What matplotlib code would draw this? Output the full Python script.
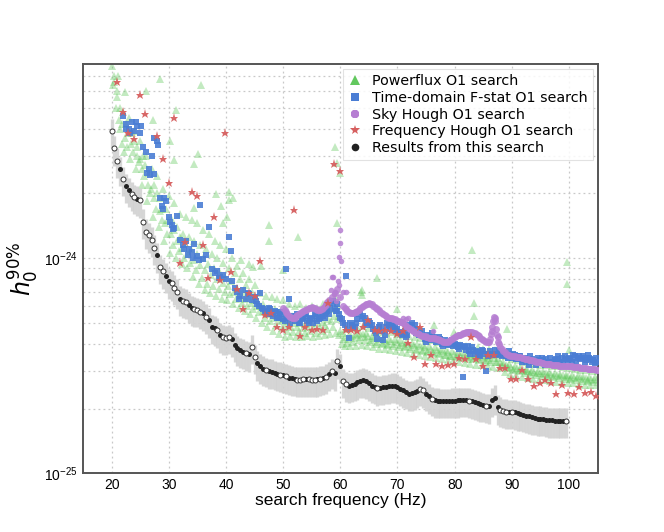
import numpy as np
import matplotlib
matplotlib.use("Agg")
import matplotlib.pyplot as plt
from matplotlib.lines import Line2D
from matplotlib.ticker import FixedLocator, NullFormatter

UNIT = 1e-25

# ---------------- Results from this search (0.5 Hz bins, 20.0 .. 99.5 Hz)
this_f_start, this_f_step = 20.0, 0.5
this_h0 = [
    39.0, 32.4, 28.4, 26.0, 23.4, 21.7, 20.8, 19.9, 19.3, 18.9,
    18.6, 14.8, 13.3, 12.8, 12.2, 11.2, 10.3, 9.1, 8.7, 8.3,
    7.8, 7.65, 7.3, 7.0, 6.5, 6.35, 6.28, 6.05, 5.85, 5.8,
    5.75, 5.65, 5.55, 5.35, 5.15, 4.8, 4.72, 4.62, 4.39, 4.3,
    4.27, 4.31, 4.2, 3.95, 3.82, 3.73, 3.68, 3.62, 3.58, 3.87,
    3.48, 3.25, 3.15, 3.07, 3.03, 2.99, 2.97, 2.93, 2.9, 2.88,
    2.86, 2.83, 2.79, 2.77, 2.75, 2.73, 2.73, 2.74, 2.74, 2.74,
    2.73, 2.73, 2.74, 2.76, 2.78, 2.82, 2.9, 2.98, 2.92, 3.32,
    3.16, 2.69, 2.6, 2.56, 2.58, 2.61, 2.65, 2.69, 2.71, 2.68,
    2.62, 2.56, 2.52, 2.49, 2.5, 2.51, 2.52, 2.54, 2.56, 2.56,
    2.53, 2.48, 2.44, 2.39, 2.35, 2.36, 2.38, 2.42, 2.48, 2.44,
    2.35, 2.28, 2.22, 2.19, 2.18, 2.17, 2.17, 2.17, 2.17, 2.18,
    2.18, 2.19, 2.2, 2.2, 2.2, 2.18, 2.16, 2.14, 2.12, 2.1,
    2.08, 2.06, 2.05, 2.2, 2.25, 2.03, 1.98, 1.95, 1.94, 1.93,
    1.93, 1.92, 1.9, 1.89, 1.87, 1.85, 1.84, 1.82, 1.81, 1.8,
    1.8, 1.79, 1.78, 1.77, 1.77, 1.76, 1.76, 1.76, 1.76, 1.76,
]
this_filled = ("0001011001" "0000001001" "1000100110" "0010111010"
               "0011111010" "0111011110" "1011100010" "0010101010"
               "1001111111" "1110111111" "1111111100" "1101111111"
               "1111101111" "1011110001" "0111111111" "1111111110")
this_err_lo, this_err_hi = 0.17, 0.14

# ---------------- Powerflux O1 (three interleaved rows across the band + outliers)
pf_f_step = 0.5
pf_a_f_start = 20.0
pf_a = [
    78, 66, 60, 50, 48, 42, 45, 38, 39, 33,
    35, 30, 30, 25, 26, 22, 24, 19, 21, 17,
    19.5, 15, 18, 14, 16, 13, 15.5, 12.5, 15, 12,
    14.5, 11.5, 13.5, 11, 13, 10.5, 12, 10, 11.5, 9.5,
    11, 9.0, 10, 8.5, 9.2, 8.0, 8.5, 7.5, 8.0, 7.0,
    7.5, 6.4, 6.9, 6.1, 6.7, 5.9, 6.6, 5.8, 6.5, 5.6,
    6.4, 5.5, 6.1, 5.4, 6.0, 5.3, 6.1, 5.4, 5.9, 5.2,
    6.0, 5.3, 5.9, 5.4, 6.1, 5.6, 6.3, 5.8, 6.6, 6.0,
    5.4, 4.5, 4.7, 4.4, 4.75, 4.45, 4.8, 4.5, 4.85, 4.5,
    4.75, 4.35, 4.55, 4.3, 4.55, 4.25, 4.5, 4.2, 4.55, 4.2,
    4.45, 4.15, 4.4, 4.1, 4.35, 4.05, 4.3, 4.0, 4.25, 3.95,
    4.2, 3.9, 4.15, 3.85, 4.1, 3.8, 4.05, 3.75, 4.0, 3.7,
    3.95, 3.68, 3.95, 3.65, 3.9, 3.6, 3.88, 3.58, 3.85, 3.55,
    3.8, 3.52, 3.78, 3.55, 3.75, 3.45, 3.6, 3.3, 3.5, 3.22,
    3.42, 3.15, 3.35, 3.1, 3.3, 3.05, 3.25, 3.02, 3.22, 3.0,
    3.2, 2.98, 3.18, 2.95, 3.16, 2.93, 3.15, 2.9, 3.12, 2.88,
    3.08, 2.86, 3.05, 2.85, 3.03, 2.83, 3.02, 2.82, 3.0, 2.8,
    2.98,
]
pf_b_f_start = 20.25
pf_b = [
    64, 50, 44, 34, 31, 33, 29, 31, 26, 28,
    22, 24, 18.5, 20, 15.5, 17, 14, 15, 12, 13,
    10.6, 11.5, 10, 10.8, 9.4, 10, 9.0, 9.5, 8.2, 8.8,
    7.6, 8.1, 7.1, 7.6, 6.9, 7.4, 6.7, 7.2, 6.5, 7.0,
    6.4, 6.8, 6.1, 6.5, 5.9, 6.2, 5.7, 6.0, 5.5, 5.8,
    5.3, 5.6, 5.0, 5.3, 4.8, 5.1, 4.6, 4.9, 4.45, 4.75,
    4.3, 4.6, 4.35, 4.55, 4.3, 4.6, 4.3, 4.5, 4.35, 4.6,
    4.3, 4.5, 4.35, 4.6, 4.4, 4.7, 4.45, 4.8, 4.5, 4.4,
    4.0, 3.9, 4.05, 3.9, 4.1, 3.92, 4.15, 3.95, 4.15, 3.92,
    4.1, 3.85, 4.0, 3.8, 4.0, 3.78, 3.95, 3.76, 3.92, 3.72,
    3.88, 3.68, 3.85, 3.64, 3.8, 3.6, 3.76, 3.56, 3.72, 3.52,
    3.68, 3.48, 3.64, 3.44, 3.6, 3.4, 3.55, 3.36, 3.5, 3.32,
    3.46, 3.28, 3.44, 3.26, 3.42, 3.24, 3.4, 3.2, 3.36, 3.18,
    3.33, 3.15, 3.3, 3.14, 3.3, 3.08, 3.15, 2.96, 3.08, 2.9,
    3.02, 2.86, 2.98, 2.82, 2.94, 2.79, 2.9, 2.76, 2.87, 2.73,
    2.85, 2.71, 2.82, 2.69, 2.8, 2.67, 2.78, 2.65, 2.76, 2.64,
    2.74, 2.62, 2.72, 2.61, 2.7, 2.59, 2.68, 2.58, 2.67, 2.57,
]
pf_c_f_start = 20.4
pf_c = [
    70, 56, 40, 42, 36, 38, 34, 35, 30, 29,
    26, 27, 22, 21, 19, 20, 16.5, 17, 14.5, 15,
    13, 13.5, 12, 12.5, 11.2, 11.8, 10.5, 11, 9.8, 10.5,
    9.3, 10, 8.8, 9.4, 8.4, 9.0, 8.0, 8.5, 7.7, 8.2,
    7.4, 7.8, 7.0, 7.3, 6.7, 7.0, 6.5, 6.7, 6.2, 6.4,
    6.0, 6.0, 5.7, 5.8, 5.5, 5.6, 5.3, 5.4, 5.1, 5.2,
    4.9, 5.1, 4.8, 5.0, 4.8, 5.0, 4.75, 4.95, 4.8, 5.0,
    4.75, 5.0, 4.8, 5.05, 4.9, 5.2, 5.1, 5.4, 5.2, 4.6,
    4.2, 4.3, 4.2, 4.35, 4.25, 4.4, 4.3, 4.45, 4.3, 4.35,
    4.15, 4.25, 4.1, 4.2, 4.05, 4.15, 4.0, 4.12, 3.98, 4.08,
    3.94, 4.03, 3.9, 3.98, 3.85, 3.94, 3.8, 3.9, 3.76, 3.85,
    3.72, 3.8, 3.66, 3.75, 3.62, 3.7, 3.57, 3.65, 3.53, 3.6,
    3.5, 3.56, 3.48, 3.54, 3.46, 3.52, 3.43, 3.5, 3.4, 3.46,
    3.37, 3.43, 3.36, 3.45, 3.3, 3.28, 3.2, 3.18, 3.12, 3.14,
    3.06, 3.08, 3.02, 3.04, 2.98, 3.0, 2.95, 2.97, 2.92, 2.94,
    2.89, 2.92, 2.87, 2.9, 2.85, 2.88, 2.83, 2.86, 2.81, 2.84,
    2.79, 2.82, 2.77, 2.8, 2.75, 2.78, 2.73, 2.76, 2.72, 2.74,
]
pf_out_f = [21.2, 22.3, 26.1, 27.2, 28.4, 30.2, 31.0, 31.3, 34.5, 34.5,
            35.2, 35.7, 38.3, 39.2, 39.5, 40.1, 40.6, 40.6, 41.2, 42.7,
            44.0, 44.7, 46.2, 47.5, 47.6, 49.9, 52.6, 59.1, 59.5, 60.0,
            59.5, 63.6, 63.8, 63.8, 66.5, 70.0, 76.4, 79.9, 83.1, 83.4,
            83.4, 89.2, 99.7, 99.7, 100.0]
pf_out_h0 = [70, 59, 60, 44, 68, 35, 28.6, 49, 27.3, 17.2,
             30.6, 64, 19.8, 17.4, 14.5, 15.6, 20.4, 18.6, 19, 9.8,
             9.4, 9.1, 9.2, 14.2, 12, 8.8, 12.5, 33, 27.8, 25,
             14.5, 7.0, 7.1, 6.75, 8.1, 5.84, 4.88, 4.55, 10.9, 6.2,
             5.38, 4.71, 9.6, 7.6, 3.74]

# ---------------- Time-domain F-stat O1
td_f_start, td_f_step = 22.0, 0.5
td_h0 = [
    46, 42, 40, 43, 39, 41, 38, 33, 31, 26,
    30, 24.5, 35, 19, 17, 18.5, 15.5, 14.2, 13.8, 15.7,
    12.2, 11.5, 12.0, 11.0, 10.7, 11.6, 10.2, 17.7, 9.9, 10.4,
    14.0, 8.9, 8.5, 8.7, 8.2, 8.4, 8.0, 12.5, 7.8, 7.3,
    7.0, 6.7, 7.1, 6.5, 6.8, 6.4, 6.6, 6.1, 6.9, 5.8,
    5.6, 5.9, 5.5, 5.7, 5.3, 5.6, 5.2, 8.9, 6.5, 5.4,
    5.1, 5.5, 5.0, 5.3, 5.4, 5.0, 5.2, 5.5, 5.1, 5.3,
    5.4, 5.6, 5.5, 6.3, 5.8, 6.1, 5.3, 5.0, 8.3, 4.25,
    4.9, 4.8, 5.2, 5.6, 5.4, 5.0, 5.1, 4.9, 4.6, 4.2,
    4.9, 4.15, 4.8, 4.9, 5.0, 4.8, 4.7, 4.5, 4.45, 4.3,
    4.9, 5.0, 4.9, 4.7, 4.5, 4.35, 4.1, 4.3, 4.5, 4.25,
    4.15, 4.2, 3.9, 4.0, 4.1, 4.15, 4.0, 3.85, 3.95, 2.8,
    3.75, 3.7, 3.85, 3.6, 3.65, 3.5, 3.7, 2.98, 3.6, 3.55,
    3.75, 3.6, 3.65, 3.55, 3.5, 3.7, 3.45, 3.55, 3.4, 3.5,
    3.35, 3.3, 3.2, 3.4, 3.3, 3.45, 3.25, 3.35, 3.4, 3.3,
    3.2, 3.35, 3.5, 3.3, 3.25, 3.4, 3.45, 3.3, 3.5, 3.45,
    3.4, 3.5, 3.35, 3.45, 3.3, 3.25, 3.3,
]
td2_f_start = 45.25
td2_h0 = [
    6.3, 6.0, 5.9, 5.7, 5.5, 5.8, 5.4, 5.6, 5.3, 5.5,
    5.1, 5.3, 5.0, 5.2, 5.4, 5.0, 5.2, 5.5, 5.1, 5.3,
    5.0, 5.4, 5.2, 5.5, 5.3, 5.7, 5.9, 6.2, 5.7, 5.5,
    5.2, 4.9, 4.7, 5.0, 4.75, 5.0, 5.5, 5.2, 5.3, 4.9,
    5.0, 4.7, 4.5, 4.8, 4.6, 4.4, 5.0, 4.7, 4.85, 4.6,
    4.55, 4.4, 4.6, 4.4, 4.8, 4.65, 4.5, 4.4, 4.6, 4.2,
    4.4, 4.15, 4.3, 4.1, 4.3, 4.0, 4.15, 3.95, 4.0, 3.9,
    3.95, 3.8, 3.9, 3.85, 3.9, 3.6, 3.75, 3.7, 3.55, 3.75,
    3.6, 3.5, 3.7, 3.6, 3.55, 3.7, 3.5, 3.6, 3.45, 3.55,
    3.6, 3.4, 3.5, 3.3, 3.45, 3.35, 3.5, 3.3, 3.2, 3.35,
    3.45, 3.2, 3.3, 3.45, 3.3, 3.4, 3.25, 3.45, 3.5, 3.35,
    3.4, 3.55, 3.3, 3.5, 3.45, 3.3, 3.55, 3.4, 3.35, 3.45,
]
td3_f = [22.6, 23.3, 24.3, 25.2, 26.2, 26.8, 27.4, 28.1, 28.8, 29.2,
         30.3, 30.8, 32.6, 33.3, 34.2, 35.3, 38.7, 40.8, 42.3, 43.8,
         58.7, 59.4]
td3_h0 = [40, 38, 43, 41, 25, 24.3, 36, 33.5, 17.5, 19,
          14.8, 13.7, 11.0, 10.3, 10.0, 9.8, 8.1, 10.8, 6.5, 6.9,
          6.3, 5.7]

# ---------------- Sky Hough O1
sh_f_start, sh_f_step = 50.0, 0.5
sh_h0 = [
    5.85, 5.6, 5.4, 5.25, 5.3, 5.45, 5.55, 5.7, 5.74, 5.85,
    5.95, 5.85, 5.72, 5.75, 5.85, 6.1, 6.4, 6.6, 6.9, 7.2,
    6.6, 6.0, 5.8, 5.6, 5.55, 5.6, 5.7, 5.85, 6.0, 6.12,
    6.17, 6.1, 5.95, 5.8, 5.65, 5.5, 5.4, 5.3, 5.25, 5.2,
    5.12, 5.06, 5.0, 4.85, 4.72, 4.62, 4.55, 4.48, 4.4, 4.35,
    4.31, 4.28, 4.26, 4.24, 4.2, 4.15, 4.1, 4.08, 4.12, 4.22,
    4.32, 4.38, 4.42, 4.48, 4.53, 4.55, 4.53, 4.48, 4.38, 4.28,
    4.18, 4.1, 4.1, 4.6, 5.3, 4.3, 3.85, 3.7, 3.6, 3.54,
    3.52, 3.5, 3.48, 3.46, 3.43, 3.4, 3.38, 3.36, 3.33, 3.3,
    3.28, 3.25, 3.24, 3.22, 3.2, 3.19, 3.18, 3.17, 3.16, 3.16,
    3.15, 3.15, 3.13, 3.12, 3.1, 3.09, 3.08, 3.07, 3.06, 3.05,
    3.04,
]
sh2_f = [50.25, 50.75, 51.25, 51.75, 52.25, 52.75, 53.25, 53.75, 54.25, 54.75,
         55.25, 55.75, 56.25, 56.75, 57.25, 57.75, 60.75, 61.25, 61.75, 62.25,
         62.75, 63.25, 63.75, 64.25, 64.75, 65.25, 65.75, 66.25, 66.75, 67.25,
         67.75, 68.25, 68.75, 69.25, 69.75, 70.25, 70.75, 71.25, 71.75, 72.25,
         72.75, 73.25, 73.75, 74.25, 74.75, 75.25, 75.75, 76.25, 76.75, 77.25,
         77.75, 78.25, 78.75, 79.25, 79.75, 80.25, 80.75, 81.25, 81.75, 82.25,
         82.75, 83.25, 83.75, 84.25, 84.75, 85.25, 85.75,
         86.25, 86.4, 86.6, 86.75, 86.9, 87.1, 87.25, 87.4, 87.6, 87.75,
         88.25, 88.75, 89.25, 89.75, 90.25, 90.75, 91.25, 91.75, 92.25, 92.75,
         93.25, 93.75, 94.25, 94.75, 95.25, 95.75, 96.25, 96.75, 97.25, 97.75,
         98.25, 98.75, 99.25, 99.75, 100.25, 100.75, 101.25, 101.75, 102.25,
         102.75, 103.25, 103.75, 104.25, 104.75]
sh2_h0 = [5.72, 5.5, 5.32, 5.26, 5.38, 5.5, 5.62, 5.72, 5.8, 5.9,
          5.9, 5.78, 5.73, 5.8, 5.97, 6.25, 5.9, 5.7, 5.57, 5.57,
          5.65, 5.77, 5.92, 6.06, 6.15, 6.14, 6.02, 5.88, 5.72, 5.58,
          5.45, 5.35, 5.27, 5.22, 5.16, 5.09, 5.03, 4.92, 4.78, 4.67,
          4.58, 4.51, 4.44, 4.37, 4.33, 4.29, 4.27, 4.25, 4.22, 4.17,
          4.12, 4.09, 4.1, 4.17, 4.27, 4.35, 4.4, 4.45, 4.5, 4.54,
          4.54, 4.5, 4.43, 4.33, 4.23, 4.14, 4.1,
          4.2, 4.45, 4.8, 5.1, 5.34, 5.1, 4.7, 4.4, 4.1, 4.0,
          3.78, 3.65, 3.57, 3.53, 3.51, 3.49, 3.47, 3.44, 3.41, 3.39,
          3.37, 3.34, 3.31, 3.29, 3.26, 3.24, 3.23, 3.21, 3.19, 3.18,
          3.17, 3.16, 3.16, 3.15, 3.15, 3.14, 3.12, 3.11, 3.09,
          3.08, 3.07, 3.06, 3.05, 3.04]
sh_out_f = [58.4, 58.6, 58.7, 59.0, 59.3, 59.6, 59.85, 59.9, 60.0, 60.1,
            60.4, 61.0, 59.7, 58.9, 70.9, 71.5, 71.8, 76.3]
sh_out_h0 = [7.1, 8.2, 8.2, 7.0, 6.3, 7.8, 10.1, 11.8, 13.5, 9.7,
             7.0, 7.0, 7.5, 6.8, 5.3, 5.2, 5.3, 4.6]

# ---------------- Frequency Hough O1
fh_f = [21.0, 22.0, 22.9, 23.9, 24.9, 25.9, 28.0, 29.0, 30.0, 30.9,
        31.9, 32.9, 34.0, 34.9, 35.9, 36.9, 37.9, 38.9, 39.9, 40.9,
        41.9, 42.9, 44.0, 45.0, 45.9, 46.9, 47.9, 48.9, 49.9, 51.0,
        51.9, 53.0, 53.9, 55.0, 55.9, 56.9, 57.9, 58.9, 60.0, 61.0,
        61.9, 62.9, 63.9, 64.8, 66.0, 66.8, 67.8, 68.8, 69.9, 70.9,
        71.9, 72.9, 73.9, 74.9, 75.8, 76.8, 77.8, 78.8, 79.8, 80.8,
        81.8, 82.8, 83.8, 84.9, 85.9, 86.9, 87.9, 88.8, 89.8, 90.8,
        91.8, 92.9, 93.9, 94.9, 95.8, 96.8, 97.8, 98.8, 99.8, 100.8,
        101.8, 102.8, 103.8, 104.7]
fh_h0 = [66.2, 47.8, 38.0, 35.9, 57.1, 46.6, 36.9, 29.0, 22.4, 45.0,
         9.5, 11.9, 20.3, 19.5, 11.5, 8.07, 15.6, 7.9, 38.3, 8.6,
         7.2, 5.78, 6.9, 6.7, 9.7, 5.44, 5.54, 4.77, 4.63, 4.77,
         16.8, 4.34, 4.77, 4.63, 4.68, 4.63, 6.17, 27.3, 25.4, 4.66,
         4.66, 4.59, 4.8, 5.18, 4.63, 4.6, 4.62, 4.58, 4.47, 4.59,
         4.04, 3.47, 4.8, 3.21, 3.54, 3.21, 3.15, 3.18, 3.24, 3.45,
         3.39, 4.31, 3.41, 3.17, 3.56, 3.56, 3.1, 3.1, 2.76, 2.76,
         3.04, 2.76, 2.54, 2.63, 2.72, 2.63, 2.35, 2.58, 2.37, 2.35,
         2.52, 2.37, 2.39, 2.29]

legend_labels = ["Powerflux O1 search", "Time-domain F-stat O1 search",
                 "Sky Hough O1 search", "Frequency Hough O1 search",
                 "Results from this search"]

y_major = [1e-25, 1e-24]
y_minor = [2e-25, 3e-25, 4e-25, 5e-25, 6e-25, 7e-25, 8e-25, 9e-25,
           2e-24, 3e-24, 4e-24, 5e-24, 6e-24, 7e-24]
x_ticks = [20, 30, 40, 50, 60, 70, 80, 90, 100]

# ---------------- colours
C_GREEN = "#62C85E"
C_BLUE = "#4A7DD4"
C_PURPLE = "#B67ED2"
C_RED = "#D65F5F"
C_BLACK = "#222222"


def grid_f(start, step, n):
    return start + step * np.arange(n)


fig = plt.figure(figsize=(6.64, 5.32), dpi=100)
ax = fig.add_subplot(111)

# Powerflux
for f0, vals in ((pf_a_f_start, pf_a), (pf_b_f_start, pf_b), (pf_c_f_start, pf_c)):
    ax.plot(grid_f(f0, pf_f_step, len(vals)), np.array(vals) * UNIT, ls="none",
            marker="^", ms=5.5, mew=0, color=C_GREEN, alpha=0.38, zorder=2)
ax.plot(pf_out_f, np.array(pf_out_h0) * UNIT, ls="none", marker="^", ms=5.5,
        mew=0, color=C_GREEN, alpha=0.38, zorder=2)

# Time-domain F-stat
for fvals, hvals in ((grid_f(td_f_start, td_f_step, len(td_h0)), td_h0),
                     (grid_f(td2_f_start, td_f_step, len(td2_h0)), td2_h0),
                     (td3_f, td3_h0)):
    ax.plot(fvals, np.array(hvals) * UNIT, ls="none", marker="s", ms=4.3,
            mew=0, color=C_BLUE, alpha=0.9, zorder=3)

# Sky Hough
ax.plot(grid_f(sh_f_start, sh_f_step, len(sh_h0)), np.array(sh_h0) * UNIT, ls="none",
        marker="o", ms=5.0, mew=0, color=C_PURPLE, alpha=0.85, zorder=4)
ax.plot(sh2_f, np.array(sh2_h0) * UNIT, ls="none",
        marker="o", ms=5.0, mew=0, color=C_PURPLE, alpha=0.85, zorder=4)
ax.plot(sh_out_f, np.array(sh_out_h0) * UNIT, ls="none",
        marker="o", ms=4.0, mew=0, color=C_PURPLE, alpha=0.85, zorder=4)

# Frequency Hough
ax.plot(fh_f, np.array(fh_h0) * UNIT, ls="none", marker="*", ms=6.5, mew=0,
        color=C_RED, alpha=0.95, zorder=5)

# This search
tf = grid_f(this_f_start, this_f_step, len(this_h0))
th = np.array(this_h0) * UNIT
ax.errorbar(tf, th, yerr=[th * this_err_lo, th * this_err_hi], fmt="none",
            ecolor="#D2D2D2", elinewidth=2.4, alpha=0.9, zorder=5)
filled = np.array([c == "1" for c in this_filled])
ax.plot(tf[filled], th[filled], ls="none", marker="o", ms=3.6, mew=0,
        color=C_BLACK, zorder=6)
ax.plot(tf[~filled], th[~filled], ls="none", marker="o", ms=3.6, mew=0.7,
        mfc="white", mec="#333333", zorder=6)

ax.set_yscale("log")
ax.set_xlim(15, 105)
ax.set_ylim(1e-25, 8e-24)
ax.xaxis.set_major_locator(FixedLocator(x_ticks))
ax.yaxis.set_major_locator(FixedLocator(y_major))
ax.yaxis.set_minor_locator(FixedLocator(y_minor))
ax.yaxis.set_minor_formatter(NullFormatter())

ax.grid(which="major", axis="both", ls=(0, (1.5, 2.5)), color="#C8C8C8", lw=0.9)
ax.grid(which="minor", axis="y", ls=(0, (1.5, 2.5)), color="#C8C8C8", lw=0.9)
ax.set_axisbelow(True)

ax.tick_params(which="both", length=0, labelsize=10)
ax.tick_params(axis="x", pad=3.5)
ax.tick_params(axis="y", pad=4)
for lab in ax.get_xticklabels() + ax.get_yticklabels():
    lab.set_fontfamily("Liberation Sans")
for sp in ax.spines.values():
    sp.set_color("#555555")
    sp.set_linewidth(1.4)

ax.set_xlabel("search frequency (Hz)", fontsize=12.5, family="Liberation Sans",
              labelpad=0.5)
ax.set_ylabel(r"$h_0^{90\%}$", fontsize=17, labelpad=2)

handles = [
    Line2D([], [], ls="none", marker="^", ms=7, mew=0, color=C_GREEN),
    Line2D([], [], ls="none", marker="s", ms=6, mew=0, color=C_BLUE),
    Line2D([], [], ls="none", marker="8", ms=6, mew=0, color=C_PURPLE),
    Line2D([], [], ls="none", marker="*", ms=7, mew=0, color=C_RED),
    Line2D([], [], ls="none", marker="o", ms=5.5, mew=0, color=C_BLACK),
]
leg = ax.legend(handles, legend_labels, loc="upper right",
                handlelength=1.0, handletextpad=0.7, labelspacing=0.2,
                borderaxespad=0.35, borderpad=0.35, framealpha=0.85,
                fancybox=False, edgecolor="#DDDDDD",
                prop={"family": "DejaVu Sans", "size": 10.3})
leg.get_frame().set_linewidth(0.8)

fig.savefig("out.png", dpi=100)
